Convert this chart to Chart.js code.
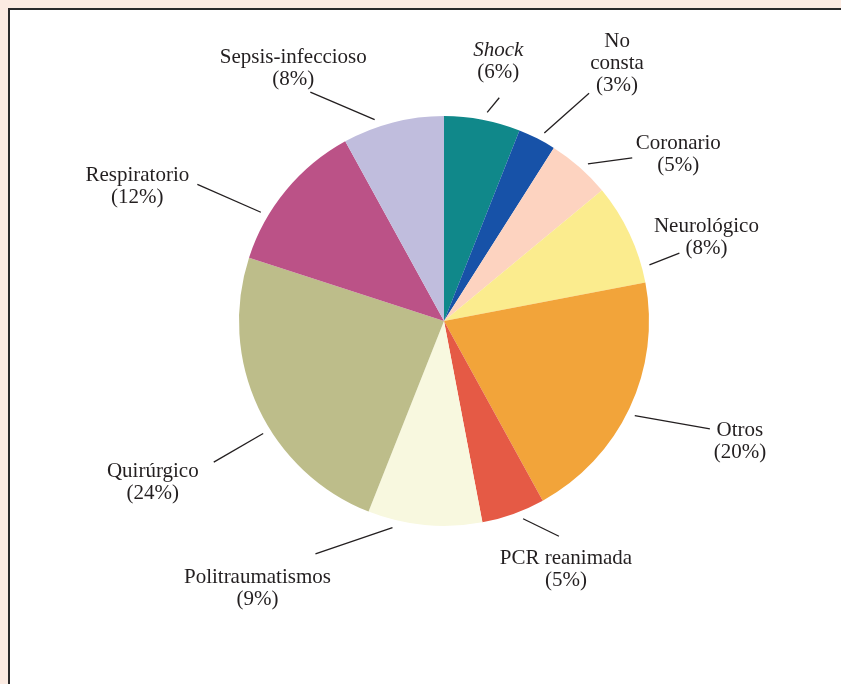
<!DOCTYPE html>
<html>
<head>
<meta charset="utf-8">
<script src="https://cdn.jsdelivr.net/npm/chart.js@4.4.0/dist/chart.umd.min.js"></script>
<style>
  html, body { margin: 0; padding: 0; background: #fcebe2; }
  #chart { display: block; }
</style>
</head>
<body>
<canvas id="chart" width="841" height="684"></canvas>
<script>
const categories = ["Shock", "No consta", "Coronario", "Neurológico", "Otros",
  "PCR reanimada", "Politraumatismos", "Quirúrgico", "Respiratorio", "Sepsis-infeccioso"];
const percentages = [6, 3, 5, 8, 20, 5, 9, 24, 12, 8];
const labelLines = [["Shock"], ["No", "consta"], ["Coronario"], ["Neurológico"], ["Otros"],
  ["PCR reanimada"], ["Politraumatismos"], ["Quirúrgico"], ["Respiratorio"], ["Sepsis-infeccioso"]];
const colors = ["#10888a", "#1752a8", "#fdd3c0", "#fbec8e", "#f2a43a",
  "#e55a45", "#f8f8df", "#bdbd8a", "#bb5287", "#c0bddd"];

// leader line / label placement relative to each slice (degrees, px)
const labelLayout = [
  { s: 0.9, e: 3.1, len: 25, dx: -1, dy: -37, italic: true },
  { s: 1.1, e: 5.5, len: 65, dx: 28, dy: -31 },
  { s: 1.1, e: 7.7, len: 44, dx: 46, dy: -4.5 },
  { s: 9.9, e: 9.1, len: 40, dx: 27, dy: -17 },
  { s: 1.2, e: -3.1, len: 82, dx: 30, dy: 12 },
  { s: -2, e: -8.3, len: 39, dx: 7, dy: 32 },
  { s: 8.6, e: 23.5, len: 61, dx: -58, dy: 33.5 },
  { s: -6.7, e: -6.3, len: 65, dx: -61, dy: 19 },
  { s: -8.9, e: -10.6, len: 77, dx: -60, dy: 1 },
  { s: -4.6, e: -15.9, len: 60, dx: -17, dy: -24.5 }
];

const panelPlugin = {
  id: "panel",
  beforeDraw(chart) {
    const c = chart.ctx;
    c.save();
    c.fillStyle = "#fcebe2";
    c.fillRect(0, 0, chart.width, chart.height);
    c.fillStyle = "#ffffff";
    c.fillRect(8, 8, chart.width, chart.height);
    c.strokeStyle = "#2a2a2a";
    c.lineWidth = 2;
    c.beginPath();
    c.moveTo(9, chart.height);
    c.lineTo(9, 9);
    c.lineTo(chart.width, 9);
    c.stroke();
    c.restore();
  }
};

const calloutPlugin = {
  id: "callouts",
  afterDatasetsDraw(chart) {
    const c = chart.ctx;
    const arcs = chart.getDatasetMeta(0).data;
    c.save();
    c.strokeStyle = "#231f20";
    c.fillStyle = "#231f20";
    c.lineWidth = 1.3;
    c.textAlign = "center";
    c.textBaseline = "middle";
    arcs.forEach(function (arc, i) {
      const p = arc.getProps(["x", "y", "startAngle", "endAngle", "outerRadius"], true);
      const mid = (p.startAngle + p.endAngle) / 2;
      const L = labelLayout[i];
      const a1 = mid + L.s * Math.PI / 180;
      const a2 = mid + L.e * Math.PI / 180;
      const r1 = p.outerRadius + 8;
      const r2 = p.outerRadius + L.len;
      const x1 = p.x + Math.cos(a1) * r1, y1 = p.y + Math.sin(a1) * r1;
      const x2 = p.x + Math.cos(a2) * r2, y2 = p.y + Math.sin(a2) * r2;
      c.beginPath();
      c.moveTo(x1, y1);
      c.lineTo(x2, y2);
      c.stroke();
      const lines = labelLines[i].concat(["(" + percentages[i] + "%)"]);
      const lh = 22;
      const cx = x2 + L.dx, cy = y2 + L.dy + 1;
      const top = cy - (lines.length - 1) * lh / 2;
      lines.forEach(function (t, k) {
        c.font = (L.italic && k === 0 ? "italic " : "") + "21px 'Liberation Serif', 'DejaVu Serif', serif";
        c.fillText(t, cx, top + k * lh);
      });
    });
    c.restore();
  }
};

new Chart(document.getElementById("chart").getContext("2d"), {
  type: "pie",
  data: {
    labels: categories,
    datasets: [{
      data: percentages,
      backgroundColor: colors,
      borderWidth: 0
    }]
  },
  options: {
    responsive: false,
    animation: false,
    layout: { padding: { left: 239, right: 192, top: 116, bottom: 158 } },
    plugins: {
      legend: { display: false },
      tooltip: { enabled: false }
    }
  },
  plugins: [panelPlugin, calloutPlugin]
});
</script>
</body>
</html>
